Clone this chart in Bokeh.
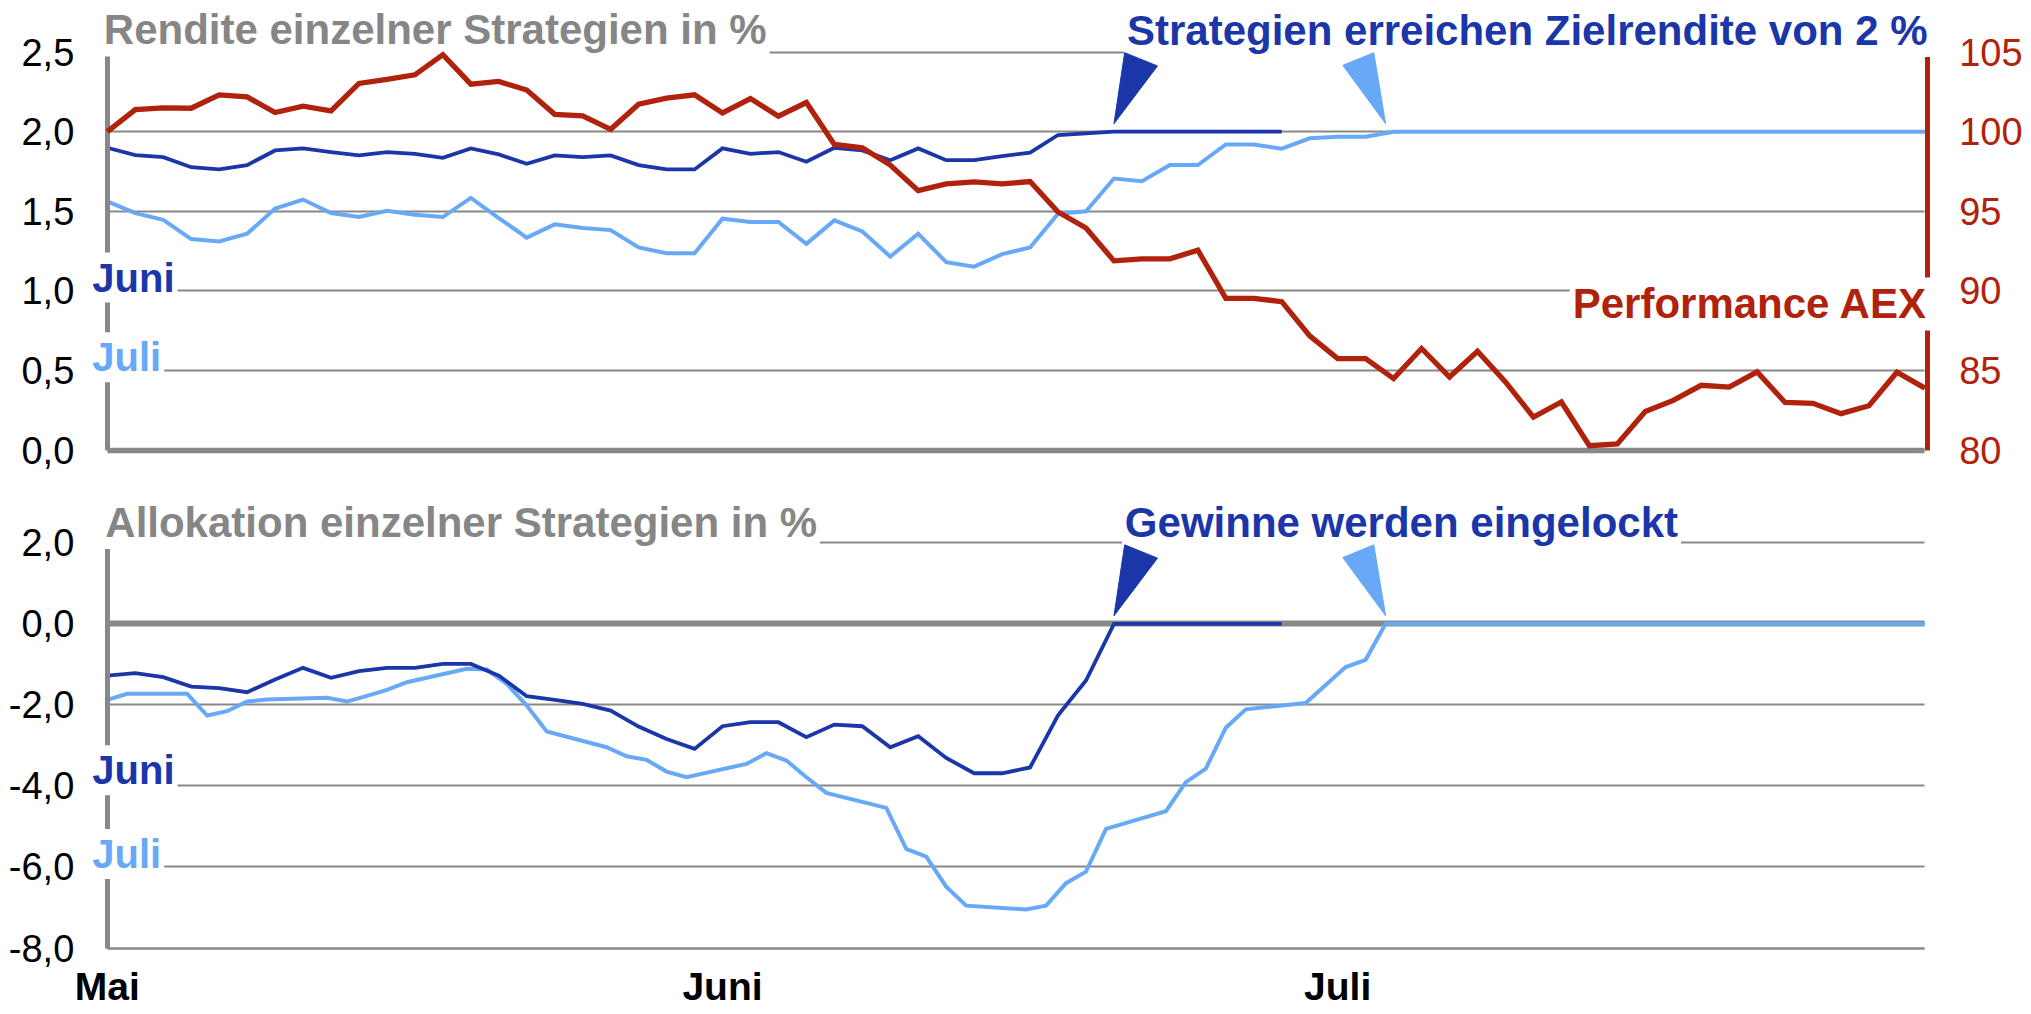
from bokeh.plotting import figure
from bokeh.models import Range1d, LinearAxis, FixedTicker, Label, Grid
from bokeh.layouts import column
from bokeh.embed import file_html
from bokeh.resources import INLINE

# ---------------------------------------------------------------- data
months = ["Mai", "Juni", "Juli"]
month_positions = [0, 22, 44]            # trading-day index of the month labels
n_trading_days = 66                      # trading days 1 May .. 31 July
n_calendar_days = 91                     # calendar days from 1 May to 31 July

rendite_ticks = [0.0, 0.5, 1.0, 1.5, 2.0, 2.5]
rendite_tick_labels = ["0,0", "0,5", "1,0", "1,5", "2,0", "2,5"]
aex_ticks = [80, 85, 90, 95, 100, 105]
aex_tick_labels = ["80", "85", "90", "95", "100", "105"]
alloc_ticks = [-8.0, -6.0, -4.0, -2.0, 0.0, 2.0]
alloc_tick_labels = ["-8,0", "-6,0", "-4,0", "-2,0", "0,0", "2,0"]

target_rendite = 2.0
target_alloc = 0.0

# Performance AEX (index, per trading day)
aex = [100.0, 101.38, 101.49, 101.47, 102.31, 102.18, 101.20, 101.60, 101.30, 103.03,
       103.28, 103.57, 104.83, 102.98, 103.15, 102.61, 101.09, 100.99, 100.15, 101.72,
       102.10, 102.31, 101.18, 102.08, 100.97, 101.83, 99.20, 98.99, 97.90, 96.30,
       96.72, 96.85, 96.72, 96.87, 94.96, 93.95, 91.89, 92.02, 92.02, 92.56,
       89.54, 89.54, 89.33, 87.18, 85.76, 85.76, 84.50, 86.39, 84.60, 86.22,
       84.29, 82.08, 83.03, 80.29, 80.40, 82.44, 83.13, 84.08, 83.97, 84.92,
       83.00, 82.95, 82.30, 82.80, 84.90, 83.90]

# Rendite (%) per trading day
rendite_juni = [1.899, 1.853, 1.840, 1.777, 1.763, 1.790, 1.882, 1.895, 1.872, 1.851,
                1.872, 1.861, 1.836, 1.895, 1.857, 1.798, 1.851, 1.840, 1.851, 1.790,
                1.763, 1.763, 1.895, 1.861, 1.872, 1.811, 1.899, 1.882, 1.821, 1.895,
                1.821, 1.821, 1.847, 1.868, 1.979, 1.989, 2.0, 2.0, 2.0, 2.0,
                2.0, 2.0, 2.0]
rendite_juli = [1.563, 1.489, 1.447, 1.326, 1.311, 1.359, 1.517, 1.574, 1.489, 1.464,
                1.504, 1.479, 1.464, 1.584, 1.458, 1.335, 1.418, 1.395, 1.382, 1.273,
                1.237, 1.237, 1.454, 1.433, 1.433, 1.296, 1.443, 1.374, 1.216, 1.359,
                1.181, 1.153, 1.231, 1.273, 1.485, 1.500, 1.706, 1.689, 1.790, 1.790,
                1.920, 1.920, 1.893, 1.958, 1.968, 1.968, 2.0, 2.0, 2.0, 2.0,
                2.0, 2.0, 2.0, 2.0, 2.0, 2.0, 2.0, 2.0, 2.0, 2.0,
                2.0, 2.0, 2.0, 2.0, 2.0, 2.0]

# Allokation (%) Juni per trading day
alloc_juni = [-1.276, -1.218, -1.317, -1.547, -1.588, -1.687, -1.374, -1.086, -1.333, -1.169,
              -1.086, -1.086, -0.988, -0.988, -1.276, -1.786, -1.877, -1.975, -2.140, -2.535,
              -2.840, -3.086, -2.527, -2.428, -2.428, -2.798, -2.486, -2.527, -3.045, -2.774,
              -3.309, -3.687, -3.687, -3.545, -2.260, -1.398, 0.0, 0.0, 0.0, 0.0,
              0.0, 0.0, 0.0]

# Allokation (%) Juli, per weekday on a calendar-day axis (days after 1 May)
alloc_juli_day = [0, 1, 4, 5, 6, 7, 8, 11, 12, 13, 14, 15, 18, 19, 20, 21, 22,
                  25, 26, 27, 28, 29, 32, 33, 34, 35, 36, 39, 40, 41, 42, 43,
                  46, 47, 48, 49, 50, 53, 54, 55, 56, 57, 60, 61, 62, 63, 64,
                  67, 68, 69, 70, 71, 74, 75, 76, 77, 78, 81, 82, 83, 84, 85,
                  88, 89, 90, 91]
alloc_juli = [-1.877, -1.728, -1.728, -2.263, -2.156, -1.918, -1.868, -1.827, -1.918, -1.778,
              -1.630, -1.440, -1.111, -1.128, -1.481, -2.016, -2.658, -3.045, -3.267, -3.358,
              -3.646, -3.786, -3.457, -3.193, -3.374, -3.786, -4.173, -4.543, -5.556, -5.745,
              -6.486, -6.955, -7.050, -6.955, -6.400, -6.115, -5.062, -4.625, -3.905, -3.573,
              -2.563, -2.111, -1.955, -1.511, -1.068, -0.887, 0.0, 0.0, 0.0, 0.0,
              0.0, 0.0, 0.0, 0.0, 0.0, 0.0, 0.0, 0.0, 0.0, 0.0,
              0.0, 0.0, 0.0, 0.0, 0.0, 0.0]

# ---------------------------------------------------------------- style / layout
RED = "#B0220C"
DARK = "#1B36A9"
LIGHT = "#68A9F7"
GRAY = "#888888"
TITLE_GRAY = "#868686"
FONT = "Liberation Sans"
MID = 0.3465                              # (ascent - descent) / 2 of the font, in em

W = 2031
TOP_H = 480
BOT_H = 534
PLOT_L, PLOT_R = 106.8, 1924.4           # px of first / last trading day
TOP_Y_HI, TOP_Y_LO = 51.5, 449.8         # px of 2.5 / 0.0 in top panel
BOT_Y_HI, BOT_Y_LO = 62.3, 467.5         # px of 2.0 / -8.0 in bottom panel
X_LAST = n_trading_days - 1

HAS_CROSS = "cross_bounds" in Grid.properties()


def x_range_for(v0, p0, v1, p1, size):
    k = (v1 - v0) / (p1 - p0)
    return Range1d(v0 - p0 * k, v0 + (size - p0) * k)


def y_range_for(v0, p0, v1, p1, size):
    k = (v1 - v0) / (p1 - p0)
    return Range1d(v0 + (size - p0) * k, v0 - p0 * k)


px_per_x = (PLOT_R - PLOT_L) / X_LAST
px_per_day = (PLOT_R - PLOT_L) / n_calendar_days

juni_lock_idx = next(i for i, v in enumerate(rendite_juni) if v >= target_rendite)
juli_lock_day = next(d for d, v in zip(alloc_juli_day, alloc_juli) if v >= target_alloc)
juni_alloc_lock = next(i for i, v in enumerate(alloc_juni) if v >= target_alloc)

DARK_WEDGE = [(0, 0), (10.7, 71), (43.5, 57.7)]
LIGHT_WEDGE = [(0, 0), (-11.8, 71), (-42.8, 58.3)]


def make_fig(height, y_range):
    p = figure(width=W, height=height,
               x_range=x_range_for(0, PLOT_L, X_LAST, PLOT_R, W), y_range=y_range,
               output_backend="svg", toolbar_location=None, min_border=0)
    p.outline_line_color = None
    p.background_fill_color = "white"
    p.border_fill_color = "white"
    p.xgrid.visible = False
    p.extra_x_ranges = {"cal": x_range_for(0, PLOT_L, n_calendar_days, PLOT_R, W)}
    return p


def style_axis(ax, ticks, labels, standoff, size="38px", color="black", bold=False):
    ax.ticker = FixedTicker(ticks=ticks)
    ax.major_label_overrides = dict(zip(ticks, labels))
    ax.major_tick_out = 0
    ax.major_tick_in = 0
    ax.minor_tick_out = 0
    ax.minor_tick_in = 0
    ax.major_label_standoff = standoff
    ax.major_label_text_font = FONT
    ax.major_label_text_font_size = size
    ax.major_label_text_color = color
    if bold:
        ax.major_label_text_font_style = "bold"


def style_y(p, ticks, labels):
    yax = p.yaxis[0]
    style_axis(yax, ticks, labels, 33)
    yax.fixed_location = 0
    yax.bounds = (ticks[0], ticks[-1])
    yax.axis_line_color = GRAY
    yax.axis_line_width = 5
    g = p.ygrid[0]
    g.ticker = FixedTicker(ticks=ticks)
    g.bounds = (ticks[0] - 1, ticks[-1] + 1)
    g.grid_line_color = GRAY
    g.grid_line_width = 2
    if HAS_CROSS:
        g.cross_bounds = (0, X_LAST)
    else:
        g.visible = False
        r = p.segment(x0=[0] * len(ticks), x1=[X_LAST] * len(ticks), y0=ticks, y1=ticks,
                      line_color=GRAY, line_width=2)
        r.level = "underlay"


def base_line(p, y, width, level=None):
    ax = LinearAxis(fixed_location=y, bounds=(0, X_LAST), ticker=FixedTicker(ticks=[]),
                    axis_line_color=GRAY, axis_line_width=width,
                    major_tick_out=0, major_tick_in=0, minor_tick_out=0, minor_tick_in=0)
    if level:
        ax.level = level
    p.add_layout(ax, "below")


def add_wedge(p, tip_x, tip_y, shape, color, sx, sy, gap, x_range_name="default"):
    xs = [tip_x + dx / sx for dx, dy in shape]
    ys = [tip_y + (dy + gap) / sy for dx, dy in shape]
    r = p.patch(xs, ys, fill_color=color, line_color=color, line_width=1,
                x_range_name=x_range_name)
    r.level = "overlay"


def label(p, text, x, y, color, size_px, xo=0, rise=0.0, align="left", **kw):
    # rise = px the text baseline sits above (y) ; label is centred vertically
    p.add_layout(Label(x=x, y=y, x_offset=xo, y_offset=rise + MID * size_px, text=text,
                       text_font=FONT, text_font_style="bold", text_font_size=f"{size_px}px",
                       text_color=color, text_align=align, text_baseline="middle",
                       background_fill_color="white", padding=3, **kw))


# ---------------------------------------------------------------- top panel
top = make_fig(TOP_H, y_range_for(rendite_ticks[-1], TOP_Y_HI, rendite_ticks[0], TOP_Y_LO, TOP_H))
top.xaxis[0].visible = False
style_y(top, rendite_ticks, rendite_tick_labels)
base_line(top, rendite_ticks[0], 5.5)

top.extra_y_ranges = {"aex": y_range_for(aex_ticks[-1], TOP_Y_HI, aex_ticks[0], TOP_Y_LO, TOP_H)}
rax = LinearAxis(y_range_name="aex", fixed_location=X_LAST + 2.3 / px_per_x,
                 bounds=(aex_ticks[0], aex_ticks[-1]), axis_line_color=RED, axis_line_width=5)
style_axis(rax, aex_ticks, aex_tick_labels, 32, color=RED)
top.add_layout(rax, "right")

top.line(list(range(len(rendite_juli))), rendite_juli, line_color=LIGHT, line_width=4,
         line_join="miter")
top.line(list(range(len(rendite_juni))), rendite_juni, line_color=DARK, line_width=3.8,
         line_join="miter")
red = top.line(list(range(len(aex))), aex, line_color=RED, line_width=5.3, line_join="miter",
               y_range_name="aex")
red.level = "overlay"

sy_top = (TOP_Y_LO - TOP_Y_HI) / (rendite_ticks[-1] - rendite_ticks[0])
add_wedge(top, juni_lock_idx, target_rendite, DARK_WEDGE, DARK, px_per_x, sy_top, 8)
add_wedge(top, juli_lock_day, target_rendite, LIGHT_WEDGE, LIGHT, px_per_day, sy_top, 8,
          x_range_name="cal")

label(top, "Rendite einzelner Strategien in %", 0, rendite_ticks[-1], TITLE_GRAY, 42,
      xo=-6.5, rise=7.5)
label(top, "Strategien erreichen Zielrendite von 2 %", juni_lock_idx, rendite_ticks[-1],
      DARK, 42, xo=10, rise=7)
label(top, "Performance AEX", X_LAST, 90, RED, 42, xo=5.6, rise=-27.5,
      align="right", y_range_name="aex")
label(top, "Juni", 0, 1.0, DARK, 40, xo=-18, rise=-0.5)
label(top, "Juli", 0, 0.5, LIGHT, 40, xo=-18, rise=-0.5)

# ---------------------------------------------------------------- bottom panel
bot = make_fig(BOT_H, y_range_for(alloc_ticks[-1], BOT_Y_HI, alloc_ticks[0], BOT_Y_LO, BOT_H))
bot.x_range = top.x_range
style_y(bot, alloc_ticks, alloc_tick_labels)

bx = bot.xaxis[0]
style_axis(bx, month_positions, months, 17, size="39px", bold=True)
bx.fixed_location = alloc_ticks[0]
bx.bounds = (0, X_LAST)
bx.axis_line_color = GRAY
bx.axis_line_width = 2

base_line(bot, target_alloc, 6, level="underlay")

bot.line(alloc_juli_day, alloc_juli, line_color=LIGHT, line_width=4, line_join="miter",
         x_range_name="cal")
bot.line(list(range(len(alloc_juni))), alloc_juni, line_color=DARK, line_width=3.8,
         line_join="miter")

sy_bot = (BOT_Y_LO - BOT_Y_HI) / (alloc_ticks[-1] - alloc_ticks[0])
add_wedge(bot, juni_alloc_lock, target_alloc, DARK_WEDGE, DARK, px_per_x, sy_bot, 8)
add_wedge(bot, juli_lock_day, target_alloc, LIGHT_WEDGE, LIGHT, px_per_day, sy_bot, 8,
          x_range_name="cal")

label(bot, "Allokation einzelner Strategien in %", 0, alloc_ticks[-1], TITLE_GRAY, 42,
      xo=-5, rise=5.8)
label(bot, "Gewinne werden eingelockt", juni_alloc_lock, alloc_ticks[-1], DARK, 42,
      xo=7.9, rise=5.8)
label(bot, "Juni", 0, -4.0, DARK, 40, xo=-18, rise=1.7)
label(bot, "Juli", 0, -6.0, LIGHT, 40, xo=-18, rise=-1)

layout = column(top, bot)
open("out.html", "w").write(file_html(layout, INLINE))
